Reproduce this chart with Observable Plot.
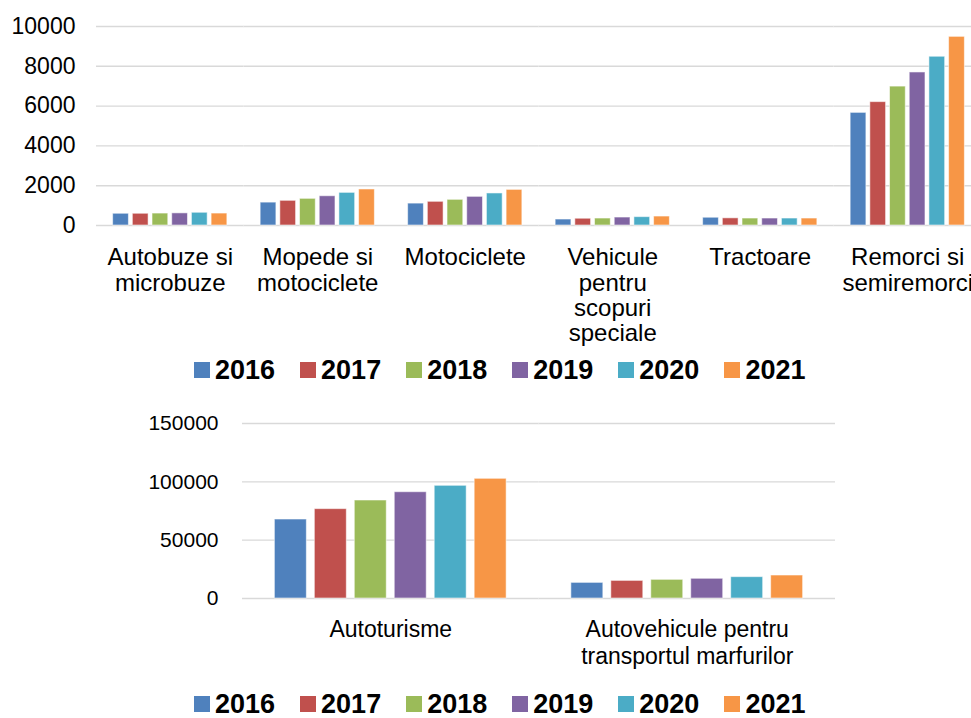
<!DOCTYPE html>
<html>
<head>
<meta charset="utf-8">
<script src="https://cdn.jsdelivr.net/npm/d3@7"></script>
<script src="https://cdn.jsdelivr.net/npm/@observablehq/plot@0.6"></script>
<style>
  html, body { margin: 0; padding: 0; background: #fff; overflow: hidden; }
  #wrap { position: relative; width: 971px; height: 718px; overflow: hidden; font-family: "Liberation Sans", Arial, sans-serif; }
  .part { position: absolute; left: 0; }
  .legend { position: absolute; left: 194px; display: flex; align-items: center; height: 24px; line-height: 24px; font-weight: bold; font-size: 27px; color: #000; }
  .legend .item { display: flex; align-items: center; margin-right: 25px; }
  .legend .item:last-child { margin-right: 0; }
  .legend .sw { width: 16px; height: 16px; margin-right: 5px; }
</style>
</head>
<body>
<div id="wrap"></div>
<script>
// ---- data ----
const years = ["2016", "2017", "2018", "2019", "2020", "2021"];
const yearColors = ["#4f81bd", "#c0504d", "#9bbb59", "#8064a2", "#4bacc6", "#f79646"];

const topCategories = ["Autobuze si microbuze", "Mopede si motociclete", "Motociclete", "Vehicule pentru scopuri speciale", "Tractoare", "Remorci si semiremorci"];
const topLabels = ["Autobuze si\nmicrobuze", "Mopede si\nmotociclete", "Motociclete", "Vehicule\npentru\nscopuri\nspeciale", "Tractoare", "Remorci si\nsemiremorci"];
const top2016 = [590, 1150, 1100, 300, 390, 5660];
const top2017 = [590, 1240, 1190, 340, 360, 6200];
const top2018 = [600, 1340, 1290, 350, 350, 6980];
const top2019 = [610, 1470, 1440, 400, 350, 7690];
const top2020 = [640, 1640, 1610, 420, 350, 8480];
const top2021 = [600, 1810, 1790, 450, 350, 9480];
const topTicks = [0, 2000, 4000, 6000, 8000, 10000];

const bottomCategories = ["Autoturisme", "Autovehicule pentru transportul marfurilor"];
const bottomLabels = ["Autoturisme", "Autovehicule pentru\ntransportul marfurilor"];
const bottom2016 = [67700, 13400];
const bottom2017 = [76600, 15100];
const bottom2018 = [84000, 16000];
const bottom2019 = [91100, 16900];
const bottom2020 = [96600, 18300];
const bottom2021 = [102600, 19700];
const bottomTicks = [0, 50000, 100000, 150000];

// ---- build tables ----
function table(cats, series) {
  const rows = [];
  cats.forEach((c, i) => {
    years.forEach((y, j) => rows.push({cat: c, year: y, value: series[j][i]}));
  });
  return rows;
}
const topData = table(topCategories, [top2016, top2017, top2018, top2019, top2020, top2021]);
const bottomData = table(bottomCategories, [bottom2016, bottom2017, bottom2018, bottom2019, bottom2020, bottom2021]);

const font = "'Liberation Sans', Arial, sans-serif";
const wrap = document.getElementById("wrap");

function chart({data, cats, labels, ticks, width, height, marginTop, marginBottom, marginLeft, marginRight, xPadOuter, tickFont, tickPad, labelPad, labelFont, lineHeight}) {
  const labelOf = new Map(cats.map((c, i) => [c, labels[i]]));
  return Plot.plot({
    width, height, marginTop, marginBottom, marginLeft, marginRight,
    style: {fontFamily: font, fontSize: "23px", color: "#000", background: "transparent", overflow: "visible", maxWidth: "none"},
    fx: {domain: cats, padding: 0, round: false},
    x: {domain: years, paddingInner: 0.2, paddingOuter: xPadOuter, axis: null, round: false},
    y: {domain: [0, ticks[ticks.length - 1]]},
    color: {domain: years, range: yearColors},
    marks: [
      Plot.gridY(ticks, {stroke: "#d9d9d9", strokeOpacity: 1, strokeWidth: 1.4}),
      Plot.axisY(ticks, {tickSize: 0, tickPadding: tickPad, fontSize: tickFont, fill: "#000", tickFormat: d => String(d), label: null}),
      Plot.axisFx({anchor: "bottom", tickSize: 0, tickPadding: labelPad, fontSize: labelFont, lineHeight, fill: "#000", tickFormat: d => labelOf.get(d), label: null}),
      Plot.barY(data, {fx: "cat", x: "year", y: "value", fill: "year", stroke: "#fff", strokeOpacity: 0.55, strokeWidth: 1})
    ]
  });
}

const topChart = chart({
  data: topData, cats: topCategories, labels: topLabels, ticks: topTicks,
  width: 981, height: 355, marginTop: 26, marginBottom: 130, marginLeft: 96, marginRight: 0,
  xPadOuter: 0.845, tickFont: 23, tickPad: 21, labelPad: 22, labelFont: 24, lineHeight: 1.05
});
topChart.classList.add("part");
topChart.style.top = "0px";
wrap.appendChild(topChart);

const bottomChart = chart({
  data: bottomData, cats: bottomCategories, labels: bottomLabels, ticks: bottomTicks,
  width: 971, height: 285, marginTop: 28, marginBottom: 82, marginLeft: 242, marginRight: 136,
  xPadOuter: 0.81, tickFont: 21, tickPad: 24, labelPad: 20, labelFont: 23, lineHeight: 1.15
});
bottomChart.classList.add("part");
bottomChart.style.top = "395px";
wrap.appendChild(bottomChart);

function legend(topPx) {
  const div = d3.select(wrap).append("div").attr("class", "legend").style("top", topPx + "px");
  const items = div.selectAll("div.item").data(years).join("div").attr("class", "item");
  items.append("div").attr("class", "sw").style("background", (d, i) => yearColors[i]);
  items.append("span").text(d => d);
}
legend(358);
legend(692);
</script>
</body>
</html>
